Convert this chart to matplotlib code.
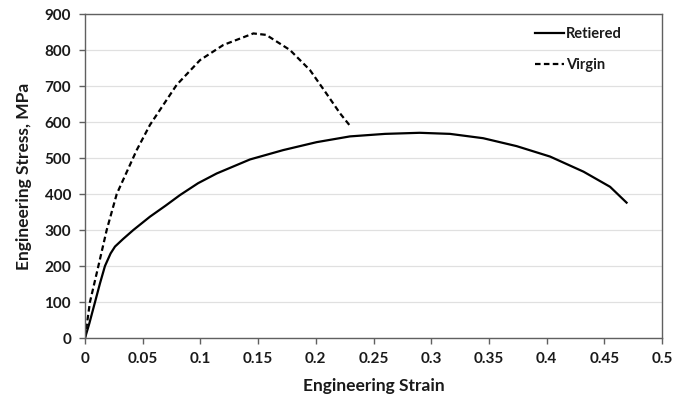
import matplotlib
matplotlib.use("Agg")
import matplotlib.pyplot as plt
from matplotlib.ticker import FuncFormatter

# values
retiered_strain = [0, 0.0038, 0.0087, 0.013, 0.0173, 0.0222, 0.026, 0.033, 0.0419, 0.0563,
                   0.07, 0.0823, 0.098, 0.1141, 0.143, 0.1718, 0.2007, 0.2296, 0.26,
                   0.29, 0.3163, 0.345, 0.374, 0.403, 0.432, 0.455, 0.4693]
retiered_stress = [0, 41, 100, 152, 200, 235, 254, 275, 300, 337,
                   368, 397, 430, 457, 496, 522, 544, 560, 567,
                   570, 567, 555, 533, 504, 462, 420, 376]

virgin_strain = [0, 0.0043, 0.0116, 0.0188, 0.0275, 0.0448, 0.0563, 0.0794, 0.0997,
                 0.1199, 0.1459, 0.157, 0.1776, 0.195, 0.209, 0.221, 0.229]
virgin_stress = [0, 100, 200, 300, 400, 522, 592, 703, 772,
                 814, 846, 842, 800, 744, 680, 624, 592]

x_ticks = [0, 0.05, 0.1, 0.15, 0.2, 0.25, 0.3, 0.35, 0.4, 0.45, 0.5]
y_ticks = [0, 100, 200, 300, 400, 500, 600, 700, 800, 900]

plt.rcParams['font.family'] = ['Lato', 'DejaVu Sans']
plt.rcParams['font.weight'] = 'bold'

fig = plt.figure(figsize=(6.86, 3.95), dpi=100)
ax = fig.add_axes([85/686, 57/395, 577/686, 324/395])

ax.plot(retiered_strain, retiered_stress, color='black', lw=1.6, label='Retiered')
ax.plot(virgin_strain, virgin_stress, color='black', lw=1.6,
        linestyle=(0, (2.5, 1.5)), label='Virgin')

ax.set_xlim(0, 0.5)
ax.set_ylim(0, 900)
ax.set_xticks(x_ticks)
ax.set_yticks(y_ticks)
ax.xaxis.set_major_formatter(FuncFormatter(lambda v, p: '{:g}'.format(round(v, 2))))

#horizontal gridlines only
ax.yaxis.grid(True, color='#e0e0e0', lw=0.9)
ax.set_axisbelow(True)

for s in ax.spines.values():
	s.set_color('#606060')
	s.set_linewidth(1.0)

ax.tick_params(direction='out', length=4, width=1, color='#606060',
               labelsize=11, labelcolor='#1a1a1a', pad=6)
for lab in ax.get_xticklabels() + ax.get_yticklabels():
	lab.set_fontweight('bold')

ax.set_xlabel('Engineering Strain', fontsize=12.5, fontweight='bold',
              color='#1a1a1a', labelpad=9)
ax.set_ylabel('Engineering Stress, MPa', fontsize=12.5, fontweight='bold',
              color='#1a1a1a', labelpad=9)

ax.legend(loc='upper left', bbox_to_anchor=(0.78, 0.96), frameon=False,
          handlelength=2.0, handletextpad=0.1, borderpad=0, borderaxespad=0,
          labelspacing=1.15, prop={'size': 10.5, 'weight': 'bold'},
          labelcolor='#1a1a1a')

plt.savefig('out.png', dpi=100)
